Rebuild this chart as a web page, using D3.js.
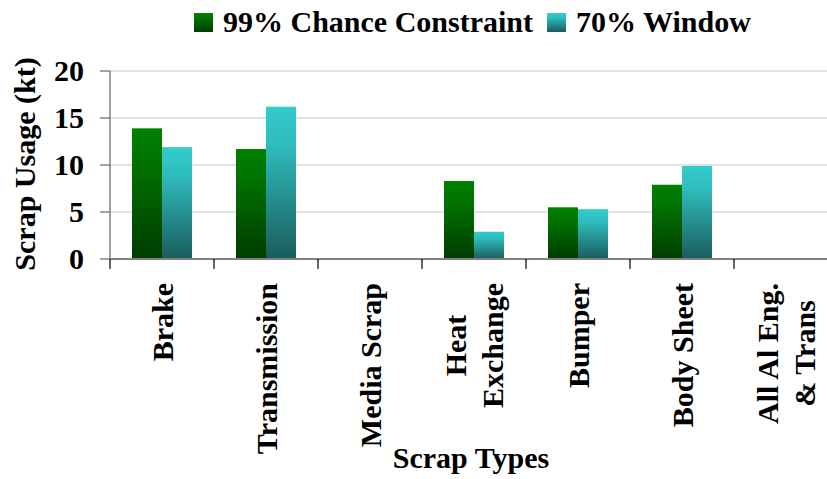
<!DOCTYPE html>
<html>
<head>
<meta charset="utf-8">
<script src="https://cdn.jsdelivr.net/npm/d3@7"></script>
<style>
html,body{margin:0;padding:0;background:#fff;overflow:hidden;}
text{font-family:"Liberation Serif","Times New Roman",serif;font-weight:bold;fill:#000;}
</style>
</head>
<body>
<svg id="chart" width="827" height="479"></svg>
<script>
const categories = ["Brake", "Transmission", "Media Scrap", "Heat\nExchange", "Bumper", "Body Sheet", "All Al Eng.\n& Trans"];
const seriesNames = ["99% Chance Constraint", "70% Window"];
const chanceValues = [13.9, 11.7, 0, 8.3, 5.5, 7.9, 0];
const windowValues = [11.9, 16.2, 0, 2.9, 5.3, 9.9, 0];
const yTicks = [0, 5, 10, 15, 20];
const yTitle = "Scrap Usage (kt)";
const xTitle = "Scrap Types";

(function () {
const svg = d3.select("#chart");
const W = 827, H = 479;
const plotLeft = 110, plotTop = 71, plotBottom = 259;
const bandW = 104;
const plotRight = plotLeft + bandW * categories.length;

const defs = svg.append("defs");
const grads = [
  {id: "gGreen", c0: "#008000", c1: "#007400", c2: "#003c00"},
  {id: "gCyan", c0: "#33cccc", c1: "#2fbcbc", c2: "#1a5c5c"}
];
grads.forEach(g => {
  const lg = defs.append("linearGradient").attr("id", g.id)
    .attr("x1", 0).attr("y1", 0).attr("x2", 0).attr("y2", 1);
  lg.append("stop").attr("offset", "0%").attr("stop-color", g.c0);
  lg.append("stop").attr("offset", "25%").attr("stop-color", g.c1);
  lg.append("stop").attr("offset", "100%").attr("stop-color", g.c2);
});
const fills = ["url(#gGreen)", "url(#gCyan)"];

const x0 = d3.scaleBand().domain(categories).range([plotLeft, plotRight]).padding(0);
const pad = x0.bandwidth() * 0.2115;
const x1 = d3.scaleBand().domain(seriesNames).range([pad, x0.bandwidth() - pad]).padding(0);
const y = d3.scaleLinear().domain([0, 20]).range([plotBottom, plotTop]);

// gridlines
svg.append("g").selectAll("line").data(yTicks.filter(t => t > 0)).join("line")
  .attr("x1", plotLeft).attr("x2", W)
  .attr("y1", d => y(d)).attr("y2", d => y(d))
  .attr("stroke", "#d9d9d9").attr("stroke-width", 1.5);

// bars
const data = categories.map((c, i) => ({cat: c, vals: [chanceValues[i], windowValues[i]]}));
const groups = svg.append("g").selectAll("g").data(data).join("g")
  .attr("transform", d => `translate(${x0(d.cat)},0)`);
groups.selectAll("rect").data(d => d.vals.map((v, j) => ({v, j})))
  .join("rect")
  .attr("x", d => x1(seriesNames[d.j]))
  .attr("width", x1.bandwidth())
  .attr("y", d => y(d.v))
  .attr("height", d => y(0) - y(d.v))
  .attr("fill", d => fills[d.j]);

// y axis
svg.append("line").attr("x1", plotLeft).attr("x2", plotLeft).attr("y1", plotTop).attr("y2", plotBottom)
  .attr("stroke", "#808080").attr("stroke-width", 1.5);
svg.append("g").selectAll("line").data(yTicks).join("line")
  .attr("x1", plotLeft - 10).attr("x2", plotLeft).attr("y1", d => y(d)).attr("y2", d => y(d))
  .attr("stroke", "#808080").attr("stroke-width", 1.5);
svg.append("g").selectAll("text").data(yTicks).join("text")
  .attr("x", 84).attr("y", d => y(d) + 10)
  .attr("text-anchor", "end").style("font-size", "30px")
  .text(d => d);

// x axis
svg.append("line").attr("x1", plotLeft).attr("x2", W).attr("y1", plotBottom).attr("y2", plotBottom)
  .attr("stroke", "#808080").attr("stroke-width", 2);
const tickXs = categories.map(c => x0(c)).concat([plotRight]);
svg.append("g").selectAll("line").data(tickXs).join("line")
  .attr("x1", d => d).attr("x2", d => d).attr("y1", plotBottom).attr("y2", plotBottom + 10)
  .attr("stroke", "#000").attr("stroke-width", 1.2);

// x labels (rotated)
const labTop = 283;
const lineGap = 37;
categories.forEach(c => {
  const lines = c.split("\n");
  const cx = x0(c) + x0.bandwidth() / 2;
  const g = svg.append("g");
  const texts = lines.map(ln => g.append("text").style("font-size", "30px").text(ln));
  const maxLen = d3.max(texts, t => t.node().getComputedTextLength());
  const cy = labTop + maxLen / 2;
  const n = lines.length;
  texts.forEach((t, k) => {
    const bx = cx + (k - (n - 1) / 2) * lineGap + 10.5;
    t.attr("text-anchor", "middle")
     .attr("transform", `translate(${bx},${cy}) rotate(-90)`);
  });
});

// axis titles
svg.append("text").attr("transform", `translate(35,164) rotate(-90)`)
  .attr("text-anchor", "middle").style("font-size", "30px").text(yTitle);
svg.append("text").attr("x", 471).attr("y", 468)
  .attr("text-anchor", "middle").style("font-size", "30px").text(xTitle);

// legend
const leg = svg.append("g");
let lx = 194;
seriesNames.forEach((s, j) => {
  leg.append("rect").attr("x", lx).attr("y", 13).attr("width", 19).attr("height", 19).attr("fill", fills[j]);
  const t = leg.append("text").attr("x", lx + 29).attr("y", 32).style("font-size", "30px").text(s);
  lx = lx + 29 + t.node().getComputedTextLength() + 14;
});
})();
</script>
</body>
</html>
